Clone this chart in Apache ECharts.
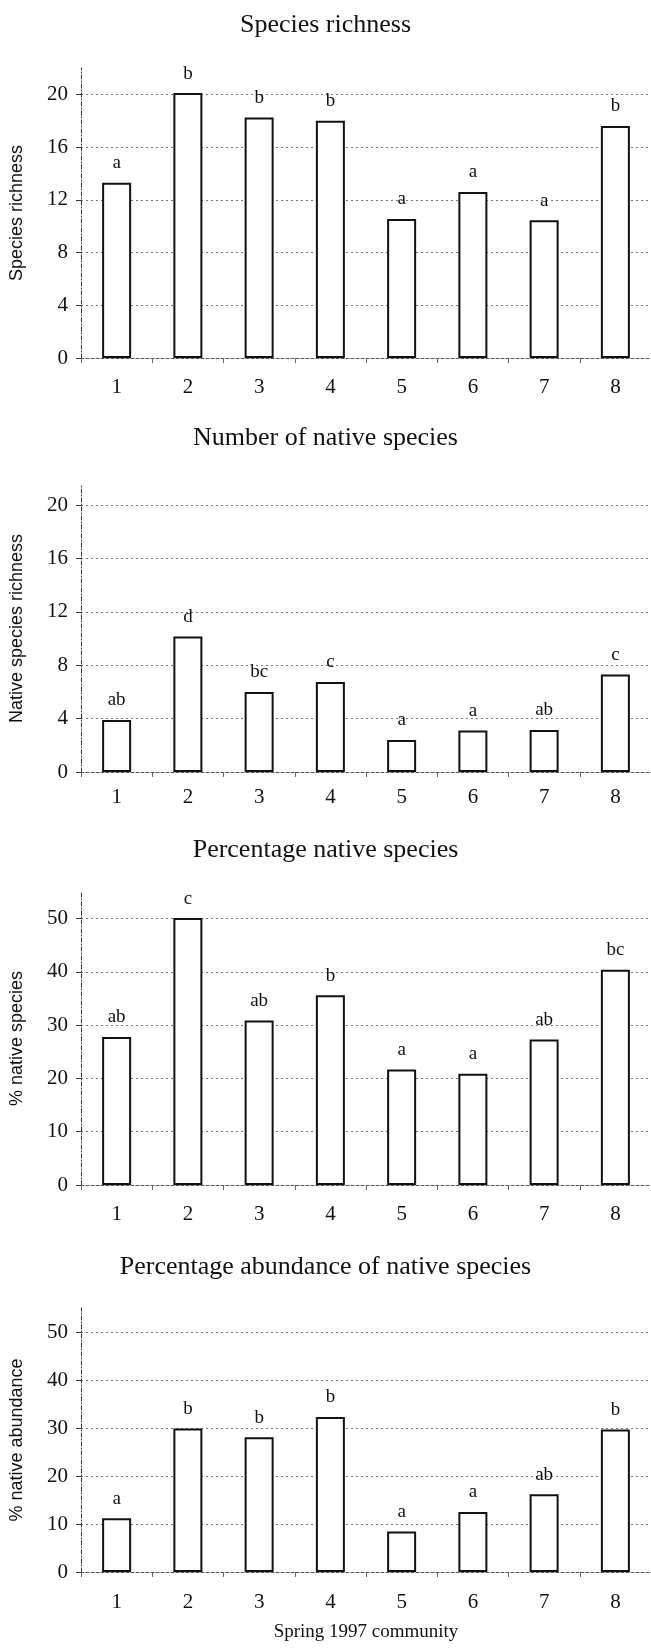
<!DOCTYPE html>
<html>
<head>
<meta charset="utf-8">
<script src="https://cdn.jsdelivr.net/npm/echarts@6/dist/echarts.min.js"></script>
<style>
html,body{margin:0;padding:0;background:#fff;}
#chart{width:651px;height:1648px;}
</style>
</head>
<body>
<div id="chart"></div>
<script>
// ---- data ----
const communities = ['1','2','3','4','5','6','7','8'];

const richness = [13.3, 20.1, 18.25, 18.0, 10.55, 12.6, 10.45, 17.6];
const richnessLetters = ['a','b','b','b','a','a','a','b'];

const nativeCount = [3.9, 10.15, 6.0, 6.75, 2.4, 3.1, 3.15, 7.3];
const nativeCountLetters = ['ab','d','bc','c','a','a','ab','c'];

const pctNative = [27.8, 50.1, 30.9, 35.6, 21.7, 20.9, 27.3, 40.4];
const pctNativeLetters = ['ab','c','ab','b','a','a','ab','bc'];

const pctAbund = [11.2, 29.9, 28.05, 32.3, 8.45, 12.5, 16.2, 29.7];
const pctAbundLetters = ['a','b','b','b','a','a','ab','b'];

const ticksCount = [0, 4, 8, 12, 16, 20];
const ticksPct = [0, 10, 20, 30, 40, 50];

const titles = ['Species richness', 'Number of native species', 'Percentage native species', 'Percentage abundance of native species'];
const yNames = ['Species richness', 'Native species richness', '% native species', '% native abundance'];
const xName = 'Spring 1997 community';

// ---- layout ----
const serif = 'Liberation Serif, Times New Roman, serif';
const sans = 'Liberation Sans, Arial, sans-serif';

const panels = [
  {values: richness, letters: richnessLetters, ticks: ticksCount, max: 22, interval: 4,
   grid: {left: 79, top: 68, width: 580, height: 290}, titleTop: 7, labelMargin: 19},
  {values: nativeCount, letters: nativeCountLetters, ticks: ticksCount, max: 21.5, interval: 4,
   grid: {left: 76, top: 485, width: 580, height: 287}, titleTop: 420, labelMargin: 15},
  {values: pctNative, letters: pctNativeLetters, ticks: ticksPct, max: 55, interval: 10,
   grid: {left: 78, top: 892, width: 580, height: 293}, titleTop: 832, labelMargin: 19},
  {values: pctAbund, letters: pctAbundLetters, ticks: ticksPct, max: 55, interval: 10,
   grid: {left: 76, top: 1308, width: 580, height: 264}, titleTop: 1249, labelMargin: 20}
];

const option = {
  backgroundColor: '#fff',
  animation: false,
  title: panels.map((p, i) => ({
    text: titles[i], left: 'center', top: p.titleTop,
    textStyle: {fontFamily: serif, fontSize: 26, fontWeight: 'normal', color: '#111'}
  })),
  grid: panels.map(p => Object.assign({containLabel: false}, p.grid)),
  xAxis: panels.map((p, i) => ({
    type: 'category', gridIndex: i, data: communities,
    name: i === 3 ? xName : '', nameLocation: 'middle', nameGap: 51,
    nameTextStyle: {fontFamily: serif, fontSize: 19, color: '#111'},
    axisLine: {lineStyle: {color: '#555', width: 1, type: [3, 2]}},
    axisTick: {show: true, inside: false, length: 5, lineStyle: {color: '#666'}},
    axisLabel: {fontFamily: serif, fontSize: 21, color: '#111', margin: p.labelMargin},
    splitLine: {show: false}
  })),
  yAxis: panels.map((p, i) => ({
    type: 'value', gridIndex: i, min: 0, max: p.max, interval: p.interval,
    name: yNames[i], nameLocation: 'middle', nameRotate: 90, nameGap: 55,
    nameTextStyle: {fontFamily: sans, fontSize: 18, color: '#111'},
    axisLine: {show: true, lineStyle: {color: '#333', width: 1, type: [4, 2, 1, 2]}},
    axisTick: {show: true, inside: false, length: 5, customValues: p.ticks, lineStyle: {color: '#333'}},
    axisLabel: {fontFamily: serif, fontSize: 21, color: '#111', margin: 13,
      customValues: p.ticks},
    splitLine: {show: true,
      lineStyle: {color: '#777', width: 1, type: [2, 3]}}
  })),
  series: panels.map((p, i) => ({
    type: 'bar', xAxisIndex: i, yAxisIndex: i, data: p.values, barWidth: 29,
    itemStyle: {color: '#fff', borderColor: '#111', borderWidth: 2},
    label: {show: true, position: 'top', distance: 10,
      fontFamily: serif, fontSize: 19, color: '#111',
      formatter: (params) => p.letters[params.dataIndex]}
  }))
};

const chart = echarts.init(document.getElementById('chart'), null, {renderer: 'canvas'});
chart.setOption(option);
</script>
</body>
</html>
